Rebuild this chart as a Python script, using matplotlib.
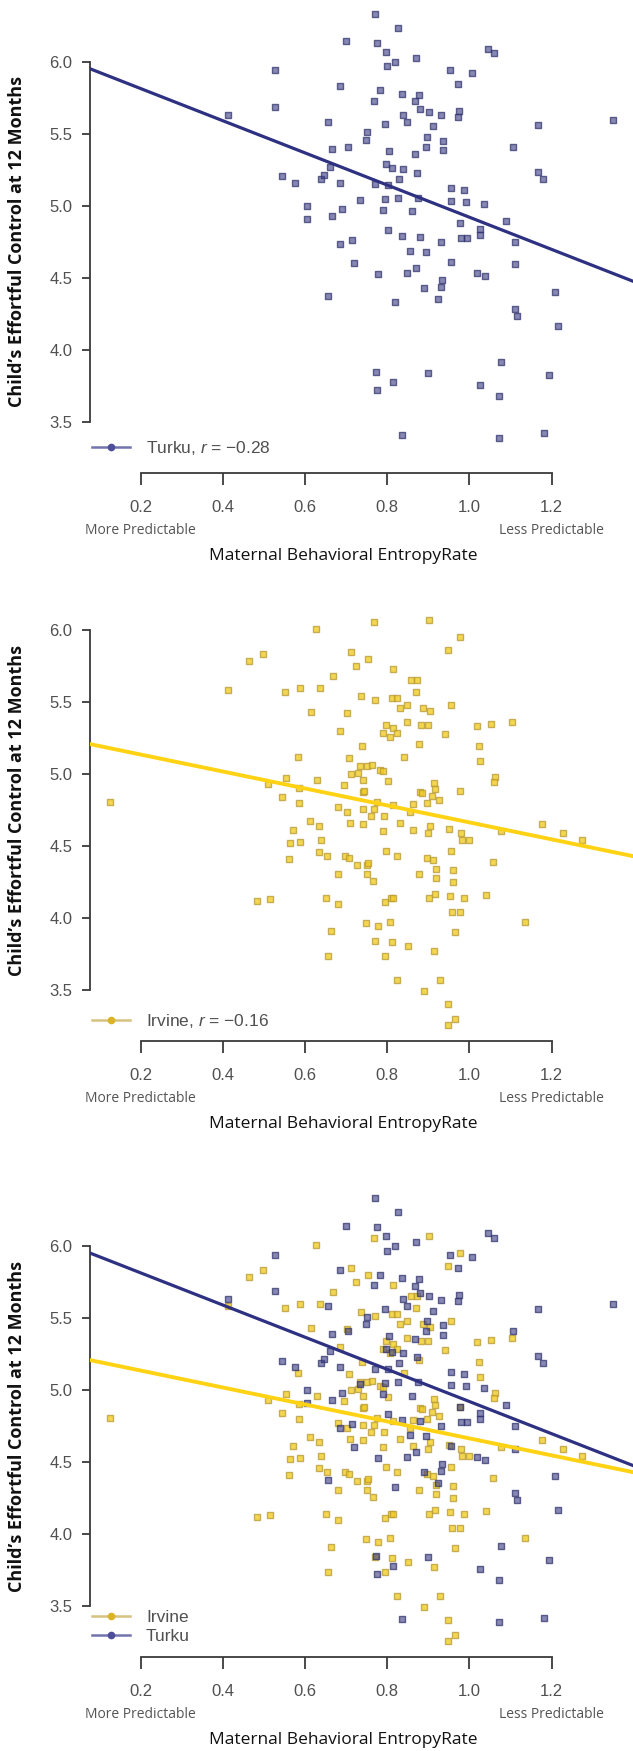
import matplotlib
matplotlib.use("Agg")
import matplotlib.pyplot as plt
from matplotlib.lines import Line2D
from matplotlib.markers import MarkerStyle
import matplotlib.transforms as mtransforms

plt.rcParams['font.family'] = ['Liberation Sans', 'DejaVu Sans']
plt.rcParams['mathtext.fontset'] = 'custom'
plt.rcParams['mathtext.rm'] = 'Liberation Sans'
plt.rcParams['mathtext.it'] = 'Liberation Sans:italic'

# ── data ───────────────────────────────────────────────
turku_x = [0.771, 0.827, 0.701, 0.774, 0.797, 1.045, 1.060, 0.819, 0.799, 0.870,
           0.527, 0.952, 1.007, 0.973, 0.686, 0.782, 0.836, 0.877, 0.767, 0.868,
           0.528, 0.879, 0.902, 0.930, 0.974, 0.972, 0.838, 0.849, 0.794, 0.911,
           0.412, 0.655, 1.167, 1.349, 0.750, 0.748, 0.896, 0.935, 0.895, 0.936,
           0.705, 0.665, 0.805, 1.105, 0.867, 0.796, 0.811, 0.839, 0.873, 0.828,
           1.167, 1.179, 0.545, 0.575, 0.638, 0.647, 0.660, 0.685, 0.771, 0.803,
           0.956, 0.987, 0.875, 0.826, 0.794, 0.733, 0.955, 0.991, 1.035, 0.606,
           0.604, 0.691, 0.666, 0.790, 0.860, 0.977, 1.089, 1.026, 1.027, 0.802,
           0.836, 0.879, 0.979, 0.994, 0.931, 1.112, 0.686, 0.714, 0.856, 0.895,
           0.720, 0.955, 1.112, 0.777, 0.848, 0.871, 1.019, 1.039, 0.933, 0.932,
           0.889, 1.208, 0.655, 0.819, 0.924,
           1.112, 1.117, 1.216, 1.076, 0.772, 0.776, 0.814, 0.900, 1.025, 1.073,
           1.194, 0.835, 1.073, 1.181]
turku_y = [6.331, 6.233, 6.142, 6.133, 6.070, 6.091, 6.058, 5.998, 5.967, 6.026,
           5.939, 5.939, 5.921, 5.848, 5.832, 5.802, 5.776, 5.771, 5.729, 5.725,
           5.685, 5.671, 5.650, 5.627, 5.659, 5.615, 5.629, 5.582, 5.564, 5.552,
           5.631, 5.580, 5.561, 5.594, 5.510, 5.456, 5.480, 5.449, 5.410, 5.384,
           5.410, 5.391, 5.377, 5.410, 5.356, 5.288, 5.263, 5.256, 5.228, 5.188,
           5.235, 5.188, 5.204, 5.158, 5.188, 5.216, 5.272, 5.158, 5.148, 5.146,
           5.125, 5.111, 5.053, 5.053, 5.046, 5.043, 5.036, 5.025, 5.015, 4.999,
           4.908, 4.978, 4.929, 4.973, 4.961, 4.882, 4.896, 4.838, 4.796, 4.831,
           4.791, 4.786, 4.779, 4.775, 4.751, 4.749, 4.737, 4.763, 4.688, 4.681,
           4.602, 4.611, 4.593, 4.525, 4.532, 4.569, 4.534, 4.511, 4.483, 4.436,
           4.429, 4.401, 4.373, 4.328, 4.351,
           4.286, 4.233, 4.165, 3.914, 3.844, 3.721, 3.779, 3.837, 3.756, 3.681,
           3.821, 3.407, 3.386, 3.419]

irvine_x = [0.628, 0.767, 0.901, 0.977, 0.949, 0.497, 0.464, 0.712, 0.753, 0.725,
            0.815, 0.669, 0.857, 0.872, 0.870, 0.551, 0.587, 0.637, 0.736, 0.771,
            0.811, 0.825, 0.831, 0.847, 0.886, 0.903, 0.956, 0.615, 0.702, 0.849,
            0.798, 0.813, 0.790, 0.808, 0.824, 0.882, 0.900, 0.940, 1.019, 1.053,
            1.103, 0.685, 0.739, 0.877, 1.024, 0.583, 0.706, 0.841, 1.027, 0.733,
            0.750, 0.764, 0.782, 0.789, 0.713, 0.728, 0.742, 0.803, 0.553, 0.630,
            0.511, 0.585, 0.694, 0.740, 0.744, 0.913, 0.917, 0.880, 0.884, 0.910,
            0.978, 1.062, 1.061, 0.545, 0.586, 0.680, 0.703, 0.742, 0.768, 0.774,
            0.813, 0.760, 0.792, 0.856, 0.864, 0.896, 0.926, 0.611, 0.633, 0.709,
            0.741, 0.830, 0.903, 1.177, 0.572, 0.790, 0.862, 0.900, 0.951, 0.980,
            0.982, 0.999, 1.078, 0.563, 0.587, 0.639,
            0.560, 0.633, 0.654, 0.697, 0.706, 0.797, 0.823, 0.896, 0.912, 0.956,
            1.057, 0.726, 0.750, 0.753, 0.681, 0.751, 0.766, 0.878, 0.919, 0.919,
            0.959, 0.959, 0.484, 0.514, 0.652, 0.681, 0.794, 0.809, 0.813, 0.901,
            0.916, 0.953, 0.986, 1.040, 0.958, 0.977, 0.749, 0.777, 0.807, 1.135,
            0.664, 0.965, 0.770, 0.811, 0.850, 0.656, 0.794, 0.914, 0.824, 0.928,
            0.889, 0.949, 0.964, 0.949,
            0.126, 0.413, 1.228, 1.274]
irvine_y = [6.009, 6.058, 6.070, 5.949, 5.858, 5.830, 5.786, 5.849, 5.800, 5.751,
            5.730, 5.681, 5.651, 5.656, 5.570, 5.572, 5.600, 5.600, 5.539, 5.512,
            5.530, 5.530, 5.458, 5.481, 5.460, 5.439, 5.481, 5.430, 5.421, 5.360,
            5.342, 5.321, 5.288, 5.258, 5.288, 5.337, 5.337, 5.279, 5.330, 5.349,
            5.358, 5.300, 5.191, 5.209, 5.191, 5.121, 5.109, 5.121, 5.091, 5.053,
            5.053, 5.063, 5.030, 5.018, 5.000, 5.007, 4.960, 4.949, 4.972, 4.960,
            4.932, 4.900, 4.923, 4.872, 4.883, 4.935, 4.895, 4.876, 4.867, 4.846,
            4.879, 4.981, 4.946, 4.842, 4.800, 4.770, 4.739, 4.758, 4.758, 4.807,
            4.784, 4.709, 4.709, 4.737, 4.793, 4.797, 4.818, 4.672, 4.639, 4.660,
            4.651, 4.660, 4.642, 4.651, 4.609, 4.602, 4.611, 4.590, 4.621, 4.590,
            4.539, 4.539, 4.604, 4.521, 4.530, 4.542,
            4.409, 4.458, 4.432, 4.432, 4.414, 4.465, 4.432, 4.414, 4.400, 4.465,
            4.390, 4.367, 4.367, 4.383, 4.309, 4.309, 4.260, 4.309, 4.342, 4.279,
            4.330, 4.248, 4.121, 4.132, 4.141, 4.100, 4.109, 4.139, 4.139, 4.139,
            4.169, 4.153, 4.139, 4.160, 4.041, 4.041, 3.962, 3.948, 3.972, 3.972,
            3.911, 3.900, 3.841, 3.832, 3.809, 3.739, 3.739, 3.772, 3.569, 3.569,
            3.490, 3.406, 3.299, 3.260,
            4.809, 5.581, 4.588, 4.540]

# regression lines (intercept, slope) and correlations
turku_fit = (6.037, -1.117)
irvine_fit = (5.253, -0.589)
turku_r = -0.28
irvine_r = -0.16

x_ticks = [0.2, 0.4, 0.6, 0.8, 1.0, 1.2]
y_ticks = [3.5, 4.0, 4.5, 5.0, 5.5, 6.0]
x_label = "Maternal Behavioral EntropyRate"
y_label = "Child\u2019s Effortful Control at 12 Months"
x_end_labels = ["More Predictable", "Less Predictable"]

# ── styles ──────────────────────────────────────────────
STYLE = {
    "turku":  dict(face=(0.24, 0.25, 0.52, 0.62), edge=(0.18, 0.19, 0.42, 0.72), size=25,
                   line="#2E3182", lw=2.3, hline=(0.45, 0.45, 0.68), hdot=(0.30, 0.30, 0.60)),
    "irvine": dict(face=(0.95, 0.80, 0.12, 0.78), edge=(0.72, 0.60, 0.20, 0.75), size=24,
                   line="#FFD314", lw=2.8, hline=(0.84, 0.76, 0.50), hdot=(0.86, 0.70, 0.15)),
}
DATA = {"turku": (turku_x, turku_y, turku_fit),
        "irvine": (irvine_x, irvine_y, irvine_fit)}
SQUARE = MarkerStyle("s", joinstyle="round")


def fmt_r(r):
    return f"{r:.2f}".replace("-", "\u2212")


PANELS = [
    (["turku"], ["Turku, $r$ = " + fmt_r(turku_r)], 472.7, 0.052),
    (["irvine"], ["Irvine, $r$ = " + fmt_r(irvine_r)], 1041.0, 0.042),
    (["irvine", "turku"], ["Irvine", "Turku"], 1657.0, 0.064),
]

W, H = 633, 1751
fig = plt.figure(figsize=(W / 100, H / 100), dpi=100)

for groups, labels, axis_px, leg_y in PANELS:
    ax = fig.add_axes([90 / W, (H - axis_px) / H, 543 / W, 471.5 / H])
    ax.set_xlim(0.077, 1.398)
    ax.set_ylim(3.146, 6.42)

    handles = []
    for g in groups:
        xs, ys, _ = DATA[g]
        st = STYLE[g]
        ax.scatter(xs, ys, s=st["size"], marker=SQUARE, facecolor=st["face"],
                   edgecolor=st["edge"], linewidths=1.0, zorder=2)
        handles.append(Line2D([], [], color=st["hline"], lw=1.8, marker="o",
                              ms=4.5, mfc=st["hdot"], mec=st["hdot"]))
    for g in groups:
        b0, b1 = DATA[g][2]
        ax.axline((0, b0), slope=b1, color=STYLE[g]["line"], lw=STYLE[g]["lw"], zorder=3)

    # R-like axes
    for s in ("top", "right"):
        ax.spines[s].set_visible(False)
    ax.spines["left"].set_bounds(3.5, 6.0)
    ax.spines["bottom"].set_bounds(0.2, 1.2)
    for s in ("left", "bottom"):
        ax.spines[s].set_color("#3a3a3a")
        ax.spines[s].set_linewidth(1.3)
    ax.set_xticks(x_ticks, [f"{v:.1f}" for v in x_ticks])
    ax.set_yticks(y_ticks, [f"{v:.1f}" for v in y_ticks])
    ax.tick_params(axis="x", direction="out", length=8.5, width=1.3, color="#3a3a3a",
                   labelsize=12, labelcolor="#505050", pad=11)
    ax.tick_params(axis="y", direction="out", length=5.8, width=1.3, color="#3a3a3a",
                   labelsize=12, labelcolor="#505050", pad=7)

    trans = mtransforms.blended_transform_factory(ax.transData, ax.transAxes)
    for xv, txt in zip([x_ticks[0], x_ticks[-1]], x_end_labels):
        ax.annotate(txt, xy=(xv, 0), xycoords=trans, xytext=(0, -41.5),
                    textcoords="offset points", ha="center", va="center",
                    fontsize=10, color="#555555", family=["Open Sans", "DejaVu Sans"])
    ax.annotate(x_label, xy=(0.466, 0), xycoords="axes fraction", xytext=(0, -60),
                textcoords="offset points", ha="center", va="center",
                fontsize=12.5, color="#111111", family=["Open Sans", "DejaVu Sans"])
    ytrans = mtransforms.blended_transform_factory(ax.transAxes, ax.transData)
    ax.annotate(y_label, xy=(0, 4.75), xycoords=ytrans, xytext=(-52.5, 0),
                textcoords="offset points", ha="center", va="center", rotation=90,
                fontsize=13, fontweight="bold", color="#111111",
                family=["Open Sans", "DejaVu Sans"])

    ax.legend(handles, labels, loc="center left", bbox_to_anchor=(0.004, leg_y),
              frameon=False, borderpad=0, borderaxespad=0, handlelength=2.2,
              handletextpad=0.9, labelspacing=0.25, fontsize=12.5, labelcolor="#505050")

fig.savefig("out.png", dpi=100, facecolor="white")
